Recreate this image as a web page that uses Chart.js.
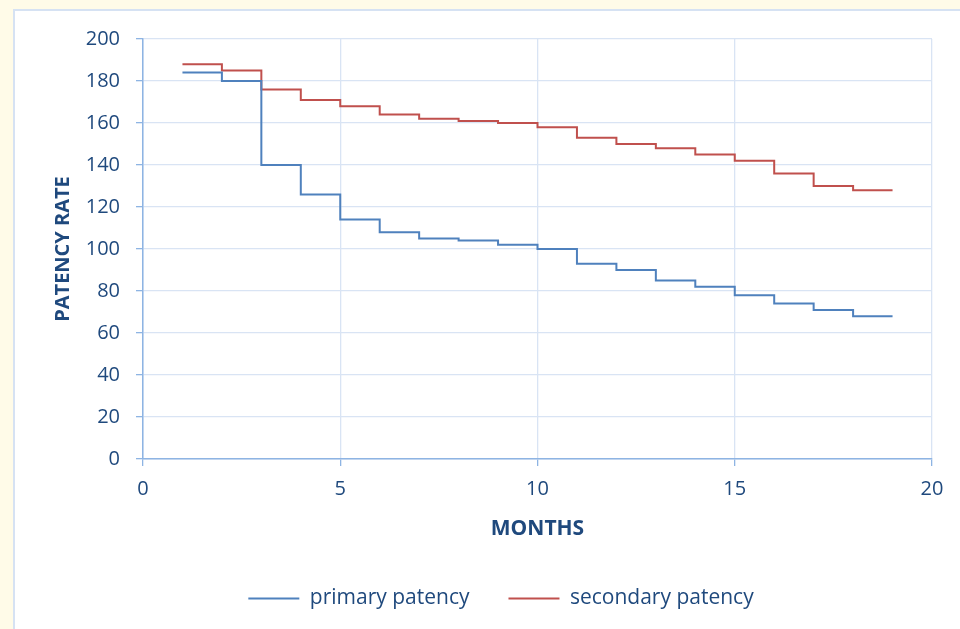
<!DOCTYPE html>
<html>
<head>
<meta charset="utf-8">
<script src="https://cdn.jsdelivr.net/npm/chart.js@4"></script>
<style>
  html, body { margin: 0; padding: 0; }
  body { width: 960px; height: 629px; background: #fffbe8; position: relative; overflow: hidden; }
  #box { position: absolute; left: 13px; top: 9px; width: 960px; height: 640px; background: #fff; border: 2px solid #d6e2f3; }
  #wrap { position: absolute; left: 0; top: 0; width: 960px; height: 629px; }
</style>
</head>
<body>
<div id="box"></div>
<div id="wrap"><canvas id="chart"></canvas></div>
<script>
const months = [1, 2, 3, 4, 5, 6, 7, 8, 9, 10, 11, 12, 13, 14, 15, 16, 17, 18, 19]
const primaryPatency = [184, 180, 140, 126, 114, 108, 105, 104, 102, 100, 93, 90, 85, 82, 78, 74, 71, 68, 68]
const secondaryPatency = [188, 185, 176, 171, 168, 164, 162, 161, 160, 158, 153, 150, 148, 145, 142, 136, 130, 128, 128]
const xTicks = [0, 5, 10, 15, 20]
const yTicks = [0, 20, 40, 60, 80, 100, 120, 140, 160, 180, 200]

const textColor = '#1f497d'
const gridColor = '#d9e4f4'
const axisColor = '#8eb4e3'
const font = 'Open Sans'

const toPoints = values => values.map((v, i) => ({x: months[i], y: v}))

// move the legend a bit, like in the original
const shiftLegend = {
    id: 'shiftLegend',
    afterLayout(chart) {
        chart.legend.left += 35
        chart.legend.right += 35
        chart.legend.top += 2
        chart.legend.bottom += 2
    }
}

const ctx = document.getElementById('chart')
new Chart(ctx, {
    type: 'line',
    data: {
        datasets: [{
            label: 'primary patency',
            data: toPoints(primaryPatency),
            borderColor: '#4f81bd',
            backgroundColor: '#4f81bd',
            borderWidth: 2,
            stepped: true,
            pointRadius: 0
        }, {
            label: 'secondary patency',
            data: toPoints(secondaryPatency),
            borderColor: '#c0504d',
            backgroundColor: '#c0504d',
            borderWidth: 2,
            stepped: true,
            pointRadius: 0
        }]
    },
    options: {
        responsive: true,
        maintainAspectRatio: false,
        animation: false,
        layout: { padding: { top: 39, right: 28, left: 0, bottom: 12 } },
        plugins: {
            tooltip: { enabled: false },
            legend: {
                position: 'bottom',
                labels: {
                    usePointStyle: true,
                    pointStyle: 'line',
                    pointStyleWidth: 51,
                    padding: 39,
                    color: textColor,
                    font: { family: font, size: 21 }
                }
            }
        },
        scales: {
            x: {
                type: 'linear',
                min: 0,
                max: 20,
                afterBuildTicks: scale => { scale.ticks = xTicks.map(v => ({value: v})) },
                afterFit: scale => { scale.height = 88 },
                ticks: { color: textColor, font: { family: font, size: 20 }, padding: 11 },
                grid: { color: gridColor, lineWidth: 1.3, tickColor: axisColor, tickLength: 7 },
                border: { color: axisColor, width: 1.5 },
                title: {
                    display: true,
                    text: 'MONTHS',
                    color: textColor,
                    font: { family: font, size: 21, weight: 'bold' },
                    padding: { top: 0, bottom: 5 }
                }
            },
            y: {
                min: 0,
                max: 200,
                afterBuildTicks: scale => { scale.ticks = yTicks.map(v => ({value: v})) },
                afterFit: scale => { scale.width = 143 },
                ticks: { color: textColor, font: { family: font, size: 20 }, padding: 16 },
                grid: { color: gridColor, lineWidth: 1.3, tickColor: axisColor, tickLength: 7 },
                border: { color: axisColor, width: 1.5 },
                title: {
                    display: true,
                    text: 'PATENCY RATE',
                    color: textColor,
                    font: { family: font, size: 20, weight: 'bold' },
                    padding: { top: 51, bottom: 0 }
                }
            }
        }
    },
    plugins: [shiftLegend]
})
</script>
</body>
</html>
